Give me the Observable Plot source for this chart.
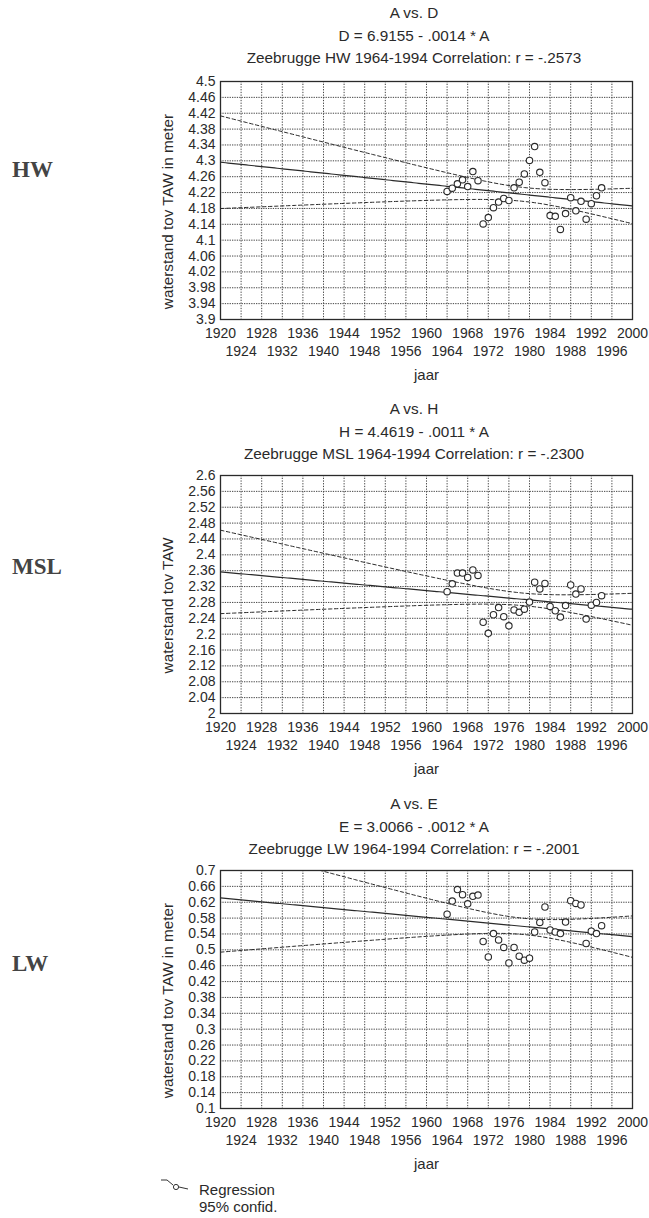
<!DOCTYPE html>
<html><head><meta charset="utf-8">
<script src="https://cdn.jsdelivr.net/npm/d3@7"></script>
<script src="https://cdn.jsdelivr.net/npm/@observablehq/plot@0.6"></script>
<style>
body{margin:0;background:#fff;}
#root{position:relative;width:649px;height:1218px;overflow:hidden;font-family:"Liberation Sans",Arial,sans-serif;color:#2a2a2a;background:#fff;}
.title{position:absolute;left:164px;width:500px;text-align:center;font-size:15.3px;line-height:17px;white-space:nowrap;}
.side{position:absolute;font-family:"Liberation Serif","Times New Roman",serif;font-weight:bold;font-size:23px;color:#444;line-height:24px;}
.panel{position:absolute;left:0;}
.leg{position:absolute;left:199px;font-size:15px;line-height:17px;}
svg{overflow:visible;}
</style></head>
<body><div id="root"></div>
<script>
// ---- data ----
const years = [1964,1965,1966,1967,1968,1969,1970,1971,1972,1973,1974,1975,1976,1977,1978,1979,1980,1981,1982,1983,1984,1985,1986,1987,1988,1989,1990,1991,1992,1993,1994];
const hwValues = [4.223,4.231,4.242,4.252,4.235,4.273,4.250,4.141,4.157,4.182,4.196,4.205,4.200,4.232,4.246,4.267,4.301,4.336,4.271,4.245,4.162,4.160,4.127,4.167,4.207,4.174,4.198,4.153,4.192,4.212,4.232];
const mslValues = [2.307,2.327,2.354,2.354,2.343,2.362,2.348,2.230,2.202,2.249,2.267,2.244,2.221,2.261,2.255,2.263,2.281,2.331,2.314,2.328,2.270,2.259,2.243,2.272,2.324,2.301,2.314,2.238,2.273,2.280,2.297];
const lwValues = [0.590,0.623,0.652,0.639,0.616,0.635,0.638,0.521,0.482,0.541,0.525,0.506,0.467,0.506,0.484,0.474,0.479,0.545,0.569,0.608,0.550,0.545,0.541,0.570,0.624,0.617,0.613,0.516,0.547,0.541,0.561];

const xTicksRow1 = [1920,1928,1936,1944,1952,1960,1968,1976,1984,1992,2000];
const xTicksRow2 = [1924,1932,1940,1948,1956,1964,1972,1980,1988,1996];
const xGrid = [1920,1924,1928,1932,1936,1940,1944,1948,1952,1956,1960,1964,1968,1972,1976,1980,1984,1988,1992,1996,2000];
const hwTicks = [3.9,3.94,3.98,4.02,4.06,4.1,4.14,4.18,4.22,4.26,4.3,4.34,4.38,4.42,4.46,4.5];
const mslTicks = [2,2.04,2.08,2.12,2.16,2.2,2.24,2.28,2.32,2.36,2.4,2.44,2.48,2.52,2.56,2.6];
const lwTicks = [0.1,0.14,0.18,0.22,0.26,0.3,0.34,0.38,0.42,0.46,0.5,0.54,0.58,0.62,0.66,0.7];

const sideLabels = ["HW","MSL","LW"];
const titles1 = ["A vs. D","A vs. H","A vs. E"];
const titles2 = ["D = 6.9155 - .0014 * A","H = 4.4619 - .0011 * A","E = 3.0066 - .0012 * A"];
const titles3 = ["Zeebrugge HW 1964-1994 Correlation: r = -.2573","Zeebrugge MSL 1964-1994 Correlation: r = -.2300","Zeebrugge LW 1964-1994 Correlation: r = -.2001"];
const yLabels = ["waterstand tov TAW in meter","waterstand tov TAW","waterstand tov TAW in meter"];
const xLabel = "jaar";
const legendLabels = ["Regression","95% confid."];

// ---- layout ----
const panelTops = [71, 465, 860];
const sideY = [158, 555, 952];
const titleY = [4, 400, 795];

const root = document.getElementById("root");

function regression(xs, ys, x0, x1) {
  const n = xs.length;
  const mx = d3.mean(xs), my = d3.mean(ys);
  const sxx = d3.sum(xs, x => (x - mx) ** 2);
  const sxy = d3.sum(xs, (x, i) => (x - mx) * (ys[i] - my));
  const b = sxy / sxx, a = my - b * mx;
  const sse = d3.sum(xs, (x, i) => (ys[i] - (a + b * x)) ** 2);
  const s = Math.sqrt(sse / (n - 2));
  const t = 2.045; // t(0.975, 29)
  return d3.range(x0, x1 + 0.01, 0.5).map(x => {
    const f = a + b * x;
    const h = t * s * Math.sqrt(1 / n + (x - mx) ** 2 / sxx);
    return {x, f, lo: f - h, hi: f + h};
  });
}

const series = [
  {values: hwValues, ticks: hwTicks},
  {values: mslValues, ticks: mslTicks},
  {values: lwValues, ticks: lwTicks}
];

series.forEach((s, i) => {
  const data = years.map((y, j) => ({year: y, value: s.values[j]}));
  const fit = regression(years, s.values, 1920, 2000);
  const ink = "#2a2a2a";
  const chart = Plot.plot({
    width: 649, height: 318,
    marginLeft: 220, marginRight: 17, marginTop: 10, marginBottom: 70,
    x: {domain: [1920, 2000]},
    y: {domain: [s.ticks[0], s.ticks[s.ticks.length - 1]]},
    style: {fontFamily: '"Liberation Sans", Arial, sans-serif', fontSize: "14px", color: ink, background: "transparent"},
    marks: [
      Plot.gridX(xGrid, {stroke: "#444", strokeOpacity: 1, strokeDasharray: "1.3,1.4"}),
      Plot.gridY(s.ticks, {stroke: "#444", strokeOpacity: 1, strokeDasharray: "1.3,1.1"}),
      Plot.line(fit, {x: "x", y: "hi", stroke: ink, strokeWidth: 1, strokeDasharray: "3.5,2.5", clip: true}),
      Plot.line(fit, {x: "x", y: "lo", stroke: ink, strokeWidth: 1, strokeDasharray: "3.5,2.5", clip: true}),
      Plot.line(fit, {x: "x", y: "f", stroke: ink, strokeWidth: 1.2, clip: true}),
      Plot.dot(data, {x: "year", y: "value", r: 3.2, stroke: ink, fill: "white", strokeWidth: 1.1}),
      Plot.frame({stroke: ink, strokeWidth: 1.3}),
      Plot.axisY(s.ticks, {tickSize: 0, tickPadding: 5, label: null, tickFormat: d => String(+d.toFixed(2))}),
      Plot.axisX(xTicksRow1, {tickSize: 0, tickPadding: 9, label: null, tickFormat: d => String(d)}),
      Plot.axisX(xTicksRow2, {tickSize: 0, tickPadding: 9, dy: 18, label: null, tickFormat: d => String(d)}),
      Plot.text([xLabel], {frameAnchor: "bottom", dy: 60, fontSize: 15, text: d => d}),
      Plot.text([yLabels[i]], {frameAnchor: "left", textAnchor: "middle", rotate: -90, dx: -52, dy: 11, fontSize: 15.3, text: d => d})
    ]
  });
  chart.classList.add("panel");
  chart.style.top = panelTops[i] + "px";
  root.appendChild(chart);

  const side = document.createElement("div");
  side.className = "side";
  side.style.top = sideY[i] + "px";
  side.style.left = "12px";
  side.textContent = sideLabels[i];
  root.appendChild(side);

  [titles1[i], titles2[i], titles3[i]].forEach((t, k) => {
    const d = document.createElement("div");
    d.className = "title";
    d.style.top = (titleY[i] + k * 22.5) + "px";
    d.textContent = t;
    root.appendChild(d);
  });
});

// legend
const ns = "http://www.w3.org/2000/svg";
const icon = document.createElementNS(ns, "svg");
icon.setAttribute("width", 34); icon.setAttribute("height", 20);
icon.style.position = "absolute"; icon.style.left = "158px"; icon.style.top = "1176px";
icon.innerHTML = '<path d="M3,4 L9,4 L15,9" fill="none" stroke="#333" stroke-width="1"/><circle cx="18" cy="11" r="2.6" fill="white" stroke="#333" stroke-width="1"/><path d="M21,11 L30,13" fill="none" stroke="#333" stroke-width="1"/>';
root.appendChild(icon);
legendLabels.forEach((t, k) => {
  const d = document.createElement("div");
  d.className = "leg";
  d.style.top = (1181 + k * 17) + "px";
  d.textContent = t;
  root.appendChild(d);
});
</script></body></html>
